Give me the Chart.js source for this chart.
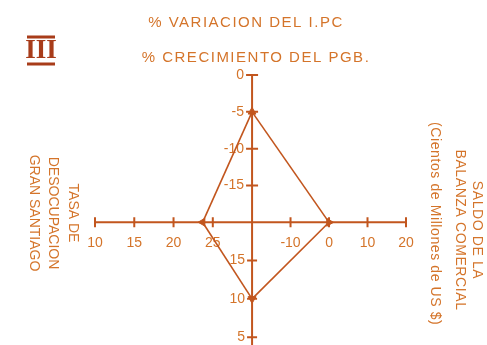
<!DOCTYPE html>
<html>
<head>
<meta charset="utf-8">
<script src="https://cdn.jsdelivr.net/npm/chart.js@4/dist/chart.umd.min.js"></script>
<style>
    html, body { margin: 0; padding: 0; background: #fff; }
    #wrap { width: 487px; height: 345px; }
</style>
</head>
<body>
<div id="wrap"><canvas id="chart"></canvas></div>
<script>
// tick values on each half-axis
const ipcTicks = [0, -5, -10, -15];     // % variacion del IPC (up)
const pgbTicks = [15, 10, 5];           // % crecimiento del PGB (down)
const desTicks = [10, 15, 20, 25];      // tasa de desocupacion (left)
const balTicks = [-10, 0, 10, 20];      // saldo balanza comercial (right)

// value of each axis where the four axes meet
const ipcOrigin = -20;
const pgbOrigin = 20;
const desOrigin = 30;
const balOrigin = -20;

// the diamond
const ipcValue = -5;
const balValue = 0;
const pgbValue = 10;
const desValue = 23.7;

const titleLines = ['% VARIACION DEL I.PC', '% CRECIMIENTO DEL PGB.'];
const leftLabel = ['TASA DE', 'DESOCUPACION', 'GRAN SANTIAGO'];
const rightLabel = ['SALDO DE LA', 'BALANZA COMERCIAL', '(Cientos de Millones de US $)'];

const textColor = '#d4742a';
const lineColor = '#c2561e';
const font = '"Liberation Sans", Arial, sans-serif';

function quadrant(xId, yId, points, rotations) {
    return {
        data: points,
        xAxisID: xId,
        yAxisID: yId,
        showLine: true,
        borderColor: lineColor,
        backgroundColor: lineColor,
        borderWidth: 1.6,
        pointStyle: 'triangle',
        pointRadius: rotations ? 4.5 : 0,
        pointRotation: ctx => rotations ? rotations[ctx.dataIndex] : 0,
        pointBackgroundColor: lineColor,
        pointBorderColor: lineColor,
        pointBorderWidth: 1
    };
}

const axesPlugin = {
    id: 'axesPlugin',
    beforeDatasetsDraw(chart) {
        const ctx = chart.ctx;
        const { xDes, xBal, yIpc, yPgb } = chart.scales;
        const cx = xDes.getPixelForValue(desOrigin);
        const cy = yIpc.getPixelForValue(ipcOrigin);

        ctx.save();
        ctx.strokeStyle = lineColor;
        ctx.lineWidth = 2;
        ctx.beginPath();
        ctx.moveTo(xDes.getPixelForValue(desTicks[0]), cy);
        ctx.lineTo(xBal.getPixelForValue(balTicks[balTicks.length - 1]), cy);
        ctx.moveTo(cx, yIpc.getPixelForValue(ipcTicks[0]));
        ctx.lineTo(cx, chart.height);
        desTicks.forEach(v => { const x = xDes.getPixelForValue(v); ctx.moveTo(x, cy - 5); ctx.lineTo(x, cy + 5); });
        balTicks.forEach(v => { const x = xBal.getPixelForValue(v); ctx.moveTo(x, cy - 5); ctx.lineTo(x, cy + 5); });
        ipcTicks.forEach(v => { const y = yIpc.getPixelForValue(v); ctx.moveTo(cx - 6, y); ctx.lineTo(cx + 6, y); });
        pgbTicks.forEach(v => { const y = yPgb.getPixelForValue(v); ctx.moveTo(cx - 5, y); ctx.lineTo(cx + 5, y); });
        ctx.stroke();

        // tick labels
        ctx.fillStyle = textColor;
        ctx.font = '14px ' + font;
        ctx.textBaseline = 'middle';
        ctx.textAlign = 'center';
        desTicks.forEach(v => ctx.fillText(String(v), xDes.getPixelForValue(v), cy + 21));
        balTicks.forEach(v => ctx.fillText(String(v), xBal.getPixelForValue(v), cy + 21));
        ctx.textAlign = 'right';
        ipcTicks.forEach(v => ctx.fillText(String(v), cx - 8, yIpc.getPixelForValue(v)));
        pgbTicks.forEach(v => ctx.fillText(String(v), cx - 7, yPgb.getPixelForValue(v)));
        ctx.restore();
    },
    afterDraw(chart) {
        const ctx = chart.ctx;
        ctx.save();
        ctx.fillStyle = textColor;
        ctx.textAlign = 'center';
        ctx.textBaseline = 'alphabetic';
        ctx.font = '15px ' + font;
        ctx.letterSpacing = '1.5px';
        ctx.fillText(titleLines[0], 246, 27);
        ctx.fillText(titleLines[1], 256, 62);

        // rotated axis titles, reading top to bottom
        ctx.font = '14px ' + font;
        ctx.textBaseline = 'middle';
        ctx.letterSpacing = '0px';
        const leftX = [73, 53, 34];
        leftLabel.forEach((t, i) => {
            ctx.save();
            ctx.translate(leftX[i], 213);
            ctx.rotate(Math.PI / 2);
            ctx.fillText(t, 0, 0);
            ctx.restore();
        });
        const rightX = [477, 460, 435];
        ctx.letterSpacing = '0.6px';
        rightLabel.forEach((t, i) => {
            ctx.save();
            if (i < 2) {
                ctx.translate(rightX[i], 230);
                ctx.rotate(Math.PI / 2);
                ctx.textAlign = 'center';
            } else {
                ctx.translate(rightX[i], 122);
                ctx.rotate(Math.PI / 2);
                ctx.textAlign = 'left';
            }
            ctx.fillText(t, 0, 0);
            ctx.restore();
        });

        // roman numeral with over and under bars
        ctx.fillStyle = '#a83c1a';
        ctx.strokeStyle = '#a83c1a';
        ctx.letterSpacing = '0px';
        ctx.font = 'bold 27px "Liberation Serif", serif';
        ctx.textAlign = 'center';
        ctx.textBaseline = 'middle';
        ctx.fillText('III', 41, 51);
        ctx.lineWidth = 3;
        ctx.beginPath();
        ctx.moveTo(27, 37); ctx.lineTo(55, 37);
        ctx.moveTo(27, 64); ctx.lineTo(55, 64);
        ctx.stroke();
        ctx.restore();
    }
};

new Chart(document.getElementById('chart'), {
    type: 'scatter',
    data: {
        datasets: [
            quadrant('xBal', 'yIpc', [{ x: balOrigin, y: ipcValue }, { x: balValue, y: ipcOrigin }], [0, 90]),
            quadrant('xBal', 'yPgb', [{ x: balValue, y: pgbOrigin }, { x: balOrigin, y: pgbValue }], null),
            quadrant('xDes', 'yPgb', [{ x: desOrigin, y: pgbValue }, { x: desValue, y: pgbOrigin }], [180, 270]),
            quadrant('xDes', 'yIpc', [{ x: desValue, y: ipcOrigin }, { x: desOrigin, y: ipcValue }], null)
        ]
    },
    options: {
        responsive: true,
        maintainAspectRatio: false,
        animation: false,
        layout: { padding: { left: 95, right: 81, top: 75, bottom: 0 } },
        plugins: {
            legend: { display: false },
            tooltip: { enabled: false }
        },
        scales: {
            xDes: { type: 'linear', position: 'bottom', min: 10, max: 49.6, display: false },
            xBal: { type: 'linear', position: 'bottom', min: -60.8, max: 20, display: false },
            yIpc: { type: 'linear', position: 'left', min: -35.9, max: 0, display: false },
            yPgb: { type: 'linear', position: 'left', min: 4.7, max: 39.2, display: false }
        }
    },
    plugins: [axesPlugin]
});
</script>
</body>
</html>
